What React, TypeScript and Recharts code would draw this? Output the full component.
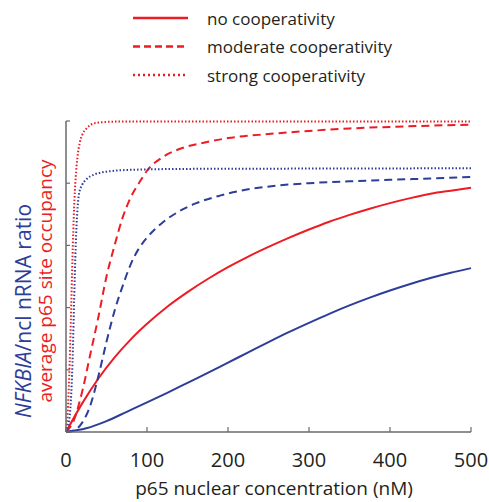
import { Legend, Line, LineChart, XAxis, YAxis } from 'recharts'

const RED = '#ed1c24'
const BLUE = '#2e3d98'
const AXIS = '#6a6a6a'
const FONT = '"Open Sans", sans-serif'

// p65 nuclear concentration (nM) and the read-off curve values for each series
const noCoopX = [0, 20, 40, 60, 80, 100, 125, 150, 175, 200, 225, 250, 275, 300, 325, 350, 375, 400, 425, 450, 475, 500]
const noCoopOccupancy = [0, 0.092, 0.172, 0.24, 0.298, 0.348, 0.403, 0.45, 0.492, 0.53, 0.564, 0.595, 0.624, 0.651, 0.676, 0.698, 0.718, 0.736, 0.752, 0.766, 0.776, 0.785]
const noCoopRatioX = [0, 25, 50, 75, 100, 125, 150, 175, 200, 225, 250, 275, 300, 325, 350, 375, 400, 425, 450, 475, 500]
const noCoopRatio = [0, 0.012, 0.035, 0.065, 0.095, 0.126, 0.158, 0.19, 0.223, 0.256, 0.289, 0.321, 0.351, 0.38, 0.407, 0.432, 0.455, 0.476, 0.495, 0.512, 0.527]

const modCoopX = [0, 10, 20, 30, 40, 50, 60, 70, 80, 90, 100, 120, 140, 170, 200, 250, 300, 350, 400, 450, 500]
const modCoopOccupancy = [0, 0.04, 0.13, 0.25, 0.37, 0.5, 0.6, 0.69, 0.755, 0.8, 0.84, 0.885, 0.91, 0.93, 0.945, 0.958, 0.968, 0.976, 0.981, 0.985, 0.988]
const modCoopRatioX = [0, 10, 20, 30, 40, 50, 60, 70, 80, 90, 100, 120, 140, 160, 190, 220, 260, 300, 350, 400, 450, 500]
const modCoopRatio = [0, 0.005, 0.03, 0.085, 0.18, 0.29, 0.39, 0.47, 0.54, 0.59, 0.625, 0.675, 0.71, 0.735, 0.76, 0.778, 0.792, 0.8, 0.806, 0.811, 0.815, 0.82]

const strongCoopX = [0, 2, 4, 6, 8, 10, 12, 14, 17, 20, 25, 30, 40, 60, 100, 200, 300, 400, 500]
const strongCoopOccupancy = [0, 0.06, 0.18, 0.36, 0.56, 0.72, 0.82, 0.88, 0.93, 0.955, 0.975, 0.987, 0.995, 0.998, 0.998, 0.998, 0.998, 0.998, 0.998]
const strongCoopRatioX = [0, 4, 6, 8, 10, 12, 14, 16, 20, 25, 35, 50, 80, 150, 300, 500]
const strongCoopRatio = [0, 0.04, 0.1, 0.22, 0.42, 0.6, 0.71, 0.765, 0.795, 0.812, 0.828, 0.837, 0.843, 0.846, 0.847, 0.848]

const xTicks = [0, 100, 200, 300, 400, 500]
const yTicks = [0, 0.2, 0.4, 0.6, 0.8, 1]

const legendLabels = ['no cooperativity', 'moderate cooperativity', 'strong cooperativity']
const legendDashes = ['none', '7 4', '2 3']

const toPoints = (xs: number[], ys: number[]) => xs.map((x, i) => ({ x, y: ys[i] }))

const series = [
  { key: 'noOcc', data: toPoints(noCoopX, noCoopOccupancy), color: RED, dash: undefined },
  { key: 'noRatio', data: toPoints(noCoopRatioX, noCoopRatio), color: BLUE, dash: undefined },
  { key: 'modOcc', data: toPoints(modCoopX, modCoopOccupancy), color: RED, dash: '8 5' },
  { key: 'modRatio', data: toPoints(modCoopRatioX, modCoopRatio), color: BLUE, dash: '8 5' },
  { key: 'strongOcc', data: toPoints(strongCoopX, strongCoopOccupancy), color: RED, dash: '1.5 2' },
  { key: 'strongRatio', data: toPoints(strongCoopRatioX, strongCoopRatio), color: BLUE, dash: '1.5 2' },
]

function LegendBox() {
  return (
    <svg width={489} height={95} style={{ display: 'block' }}>
      {legendLabels.map((label, i) => {
        const y = 18 + i * 28.5
        return (
          <g key={label}>
            <line x1={133} x2={188} y1={y} y2={y} stroke={RED} strokeWidth={2.6} strokeDasharray={legendDashes[i]} />
            <text x={207} y={y} dominantBaseline="central" fontFamily={FONT} fontSize={17} fill="#231f20">
              {label}
            </text>
          </g>
        )
      })}
    </svg>
  )
}

function YTitle() {
  return (
    <g fontFamily={FONT}>
      <text x={23} y={311} transform="rotate(-90 23 311)" textAnchor="middle" dominantBaseline="central" fill={BLUE} fontSize={21}>
        <tspan fontStyle="italic">NFKBIA</tspan>/ncl nRNA ratio
      </text>
      <text x={45} y={281} transform="rotate(-90 45 281)" textAnchor="middle" dominantBaseline="central" fill={RED} fontSize={19}>
        average p65 site occupancy
      </text>
    </g>
  )
}

function XTitle() {
  return (
    <text x={274} y={488} textAnchor="middle" dominantBaseline="central" fontFamily={FONT} fontSize={19} fill="#231f20">
      p65 nuclear concentration (nM)
    </text>
  )
}

const NoTickLabel = () => <g />

export default function App() {
  return (
    <div style={{ position: 'absolute', left: 0, top: 0, width: 489, height: 502, background: '#fff' }}>
      <LineChart width={489} height={502} margin={{ top: 121, right: 18, bottom: 30, left: 6 }}>
        <XAxis
          type="number"
          dataKey="x"
          domain={[0, 500]}
          ticks={xTicks}
          height={40}
          tickSize={-5}
          tickMargin={26}
          axisLine={{ stroke: AXIS, strokeWidth: 1.5 }}
          tickLine={{ stroke: AXIS, strokeWidth: 1.2 }}
          tick={{ fontFamily: FONT, fontSize: 20, fill: '#231f20' }}
          label={<XTitle />}
        />
        <YAxis
          type="number"
          domain={[0, 1]}
          ticks={yTicks}
          width={60}
          tick={NoTickLabel}
          tickSize={-4}
          axisLine={{ stroke: AXIS, strokeWidth: 1.5 }}
          tickLine={{ stroke: AXIS, strokeWidth: 1.2 }}
          label={<YTitle />}
        />
        <Legend
          layout="vertical"
          align="center"
          verticalAlign="middle"
          wrapperStyle={{ position: 'absolute', top: 0, left: 0, width: 489, height: 95 }}
          content={<LegendBox />}
        />
        {series.map((s) => (
          <Line
            key={s.key}
            data={s.data}
            dataKey="y"
            type="monotone"
            stroke={s.color}
            strokeWidth={2}
            strokeDasharray={s.dash}
            dot={false}
            activeDot={false}
            isAnimationActive={false}
          />
        ))}
      </LineChart>
    </div>
  )
}
